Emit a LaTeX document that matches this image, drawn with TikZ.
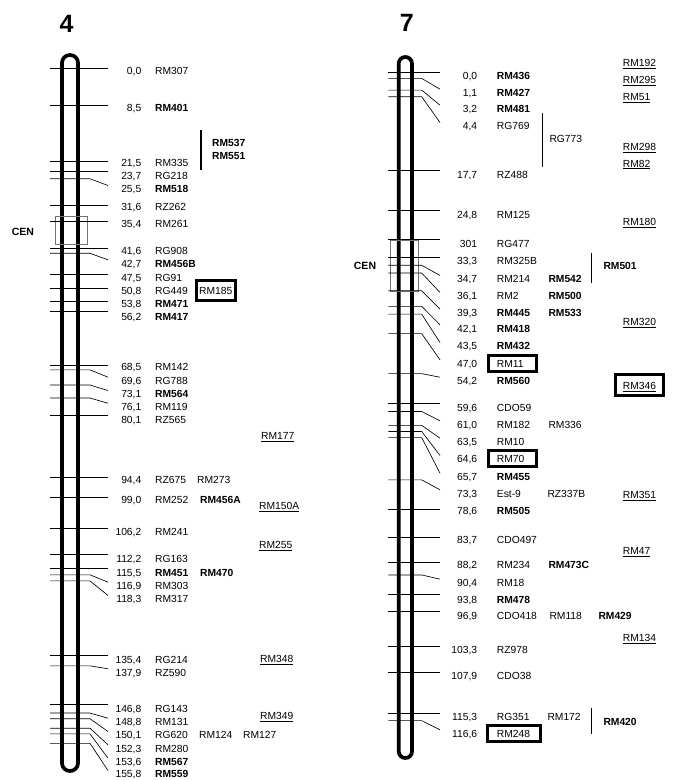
\documentclass[tikz,border=0pt]{standalone}
\usepackage{fontspec}
\setmainfont{Liberation Sans}
\newcommand\mylbl{\fontsize{10.3}{12}\selectfont}
\tikzset{
  tick/.style={line width=0.65pt},
  chrom/.style={line width=3.7pt},
  num/.style={inner sep=0pt, font=\mylbl},
  lab/.style={inner sep=0pt, font=\mylbl, anchor=base west},
  hbox/.style={line width=2.7pt},
  cenbox/.style={draw=black!55, line width=0.7pt},
  bar/.style={line width=1.1pt},
  title/.style={inner sep=0pt, font=\fontsize{25}{30}\selectfont\bfseries},
  cenlab/.style={inner sep=0pt, font=\fontsize{10.5}{12}\selectfont\bfseries}
}
% #1 name, #2 cM, #3 label centre y, #4 number, #5 marker
\newcommand\mfour[5]{%
  \pgfmathsetmacro\lyy{68.3+4.333*#2}
  \pgfmathsetmacro\eyy{#3-3.5}
  \pgfmathtruncatemacro\stt{abs(\lyy-\eyy)<2.5}
  \coordinate (#1-a) at (50,\lyy);
  \node[num,anchor=base east] (#1-n) at (141.5,{#3+3.7}) {#4};
  \node[lab] (#1) at (155,{#3+3.7}) {#5};
  \ifnum\stt=1
    \draw[tick] (#1-a) -- (108,\lyy);
  \else
    \draw[tick] (#1-a) -- ++(40,0) -- (108,\eyy);
  \fi
}
\newcommand\mseven[5]{%
  \pgfmathsetmacro\lyy{72.3+5.56*#2}
  \pgfmathsetmacro\eyy{#3-3.5}
  \pgfmathtruncatemacro\stt{abs(\lyy-\eyy)<2.05}
  \coordinate (#1-a) at (388.3,\lyy);
  \node[num,anchor=base east] (#1-n) at (477.3,{#3+3.7}) {#4};
  \node[lab] (#1) at (496.7,{#3+3.7}) {#5};
  \ifnum\stt=1
    \draw[tick] (#1-a) -- (440,\lyy);
  \else
    \draw[tick] (#1-a) -- ++(33.4,0) -- (440,\eyy);
  \fi
}
\begin{document}
\begin{tikzpicture}[x=1pt,y=-1pt]
\useasboundingbox (0,0) rectangle (673,780);
% titles
\node[title] (t4) at (66.7,24) {4};
\node[title] (t7) at (406.7,23) {7};
% chromosomes
\draw[chrom, rounded corners=7.9pt] (62,55) rectangle (78,771);
\draw[chrom, rounded corners=6.6pt] (398.7,57) rectangle (412,758);
% centromeres
\node[cenlab] (cen4) at (23,232) {CEN};
\draw[cenbox] (55,216.7) rectangle (87,244);
\node[cenlab] (cen7) at (365,266) {CEN};
\draw[cenbox] (390,240.7) rectangle (418.3,291.7);
% ---- chromosome 4 ----
\mfour{a1}{0}{70.7}{0,0}{RM307}
\mfour{a2}{8.5}{108}{8,5}{\textbf{RM401}}
\mfour{a3}{21.5}{163}{21,5}{RM335}
\mfour{a4}{23.7}{175.7}{23,7}{RG218}
\mfour{a5}{25.5}{189}{25,5}{\textbf{RM518}}
\mfour{a6}{31.6}{206.7}{31,6}{RZ262}
\mfour{a7}{35.4}{223.3}{35,4}{RM261}
\mfour{a8}{41.6}{251}{41,6}{RG908}
\mfour{a9}{42.7}{263.3}{42,7}{\textbf{RM456B}}
\mfour{a10}{47.5}{277.3}{47,5}{RG91}
\mfour{a11}{50.8}{290.7}{50,8}{RG449}
\mfour{a12}{53.8}{304}{53,8}{\textbf{RM471}}
\mfour{a13}{56.2}{316.7}{56,2}{\textbf{RM417}}
\mfour{a14}{68.5}{366.7}{68,5}{RM142}
\mfour{a15}{69.6}{380.7}{69,6}{RG788}
\mfour{a16}{73.1}{394}{73,1}{\textbf{RM564}}
\mfour{a17}{76.1}{406.7}{76,1}{RM119}
\mfour{a18}{80.1}{420}{80,1}{RZ565}
\mfour{a19}{94.4}{480}{94,4}{RZ675}
\mfour{a20}{99.0}{499.3}{99,0}{RM252}
\mfour{a21}{106.2}{532}{106,2}{RM241}
\mfour{a22}{112.2}{558.3}{112,2}{RG163}
\mfour{a23}{115.5}{572.3}{115,5}{\textbf{RM451}}
\mfour{a24}{116.9}{585.7}{116,9}{RM303}
\mfour{a25}{118.3}{599}{118,3}{RM317}
\mfour{a26}{135.4}{659.3}{135,4}{RG214}
\mfour{a27}{137.9}{672.3}{137,9}{RZ590}
\mfour{a28}{146.8}{708.3}{146,8}{RG143}
\mfour{a29}{148.8}{721.7}{148,8}{RM131}
\mfour{a30}{150.1}{735}{150,1}{RG620}
\mfour{a31}{152.3}{748.3}{152,3}{RM280}
\mfour{a32}{153.6}{761.7}{153,6}{\textbf{RM567}}
\mfour{a33}{155.8}{774}{155,8}{\textbf{RM559}}
% extra chr 4 labels
\node[lab] (a3b) at (212,146.7) {\textbf{RM537}};
\node[lab] (a3c) at (212,159.7) {\textbf{RM551}};
\draw[bar] (201,130) -- (201,170);
\node[lab] (a11b) at (199,294.4) {RM185};
\draw[hbox] (196.5,280.5) rectangle (235.5,300.2);
\node[lab] (a19b) at (197,483.7) {RM273};
\node[lab] (a20b) at (200,503) {\textbf{RM456A}};
\node[lab] (a23b) at (200,576) {\textbf{RM470}};
\node[lab] (a30b) at (199,738.7) {RM124};
\node[lab] (a30c) at (243,738.7) {RM127};
\node[lab] (u41) at (261,439.7) {\underline{RM177}};
\node[lab] (u42) at (259,509.7) {\underline{RM150A}};
\node[lab] (u43) at (259,548.7) {\underline{RM255}};
\node[lab] (u44) at (260,662.7) {\underline{RM348}};
\node[lab] (u45) at (260,719.4) {\underline{RM349}};
% ---- chromosome 7 ----
\mseven{b1}{0}{76}{0,0}{\textbf{RM436}}
\mseven{b2}{1.1}{92.7}{1,1}{\textbf{RM427}}
\mseven{b3}{3.2}{108.7}{3,2}{\textbf{RM481}}
\mseven{b4}{4.4}{126}{4,4}{RG769}
\mseven{b5}{17.7}{175}{17,7}{RZ488}
\mseven{b6}{24.8}{215}{24,8}{RM125}
\mseven{b7}{30.1}{243.3}{301}{RG477}
\mseven{b8}{33.3}{261}{33,3}{RM325B}
\mseven{b9}{34.7}{279}{34,7}{RM214}
\mseven{b10}{36.1}{296}{36,1}{RM2}
\mseven{b11}{39.3}{312.7}{39,3}{\textbf{RM445}}
\mseven{b12}{42.1}{328.3}{42,1}{\textbf{RM418}}
\mseven{b13}{43.5}{346}{43,5}{\textbf{RM432}}
\mseven{b14}{47.0}{363.3}{47,0}{RM11}
\mseven{b15}{54.2}{380.7}{54,2}{\textbf{RM560}}
\mseven{b16}{59.6}{407.3}{59,6}{CDO59}
\mseven{b17}{61.0}{424.3}{61,0}{RM182}
\mseven{b18}{63.5}{441.7}{63,5}{RM10}
\mseven{b19}{64.6}{459}{64,6}{RM70}
\mseven{b20}{65.7}{476.7}{65,7}{\textbf{RM455}}
\mseven{b21}{73.3}{493.3}{73,3}{Est-9}
\mseven{b22}{78.6}{511}{78,6}{\textbf{RM505}}
\mseven{b23}{83.7}{540}{83,7}{CDO497}
\mseven{b24}{88.2}{564.3}{88,2}{RM234}
\mseven{b25}{90.4}{582.7}{90,4}{RM18}
\mseven{b26}{93.8}{599.3}{93,8}{\textbf{RM478}}
\mseven{b27}{96.9}{616}{96,9}{CDO418}
\mseven{b28}{103.3}{650}{103,3}{RZ978}
\mseven{b29}{107.9}{676}{107,9}{CDO38}
\mseven{b30}{115.3}{716.7}{115,3}{RG351}
\mseven{b31}{116.6}{733.3}{116,6}{RM248}
% extra chr 7 labels
\draw[bar] (542.3,113) -- (542.3,166.7);
\node[lab] (b4b) at (549.3,142) {RG773};
\node[lab] (b9b) at (548.3,282.7) {\textbf{RM542}};
\node[lab] (b10b) at (548.3,299.7) {\textbf{RM500}};
\node[lab] (b11b) at (548.3,316.4) {\textbf{RM533}};
\draw[bar] (591.7,252.7) -- (591.7,282.7);
\node[lab] (b8b) at (603.3,269.7) {\textbf{RM501}};
\draw[hbox] (488.2,355.5) rectangle (536.8,371.8);
\node[lab] (b17b) at (548.3,428) {RM336};
\draw[hbox] (488.2,450.5) rectangle (536.8,466.8);
\node[lab] (b21b) at (547.3,497) {RZ337B};
\node[lab] (b24b) at (548.3,568) {\textbf{RM473C}};
\node[lab] (b27b) at (549.3,619.7) {RM118};
\node[lab] (b27c) at (598.3,619.7) {\textbf{RM429}};
\node[lab] (b30b) at (547.3,720.4) {RM172};
\draw[bar] (591.7,708.3) -- (591.7,734);
\node[lab] (b30c) at (603.3,725.4) {\textbf{RM420}};
\draw[hbox] (487.2,725.5) rectangle (540.8,741.8);
% right column
\node[lab] (u71) at (622.7,66.4) {\underline{RM192}};
\node[lab] (u72) at (622.7,83.7) {\underline{RM295}};
\node[lab] (u73) at (622.7,100.4) {\underline{RM51}};
\node[lab] (u74) at (622.7,150.4) {\underline{RM298}};
\node[lab] (u75) at (622.7,167) {\underline{RM82}};
\node[lab] (u76) at (622.7,225.4) {\underline{RM180}};
\node[lab] (u77) at (622.7,325.4) {\underline{RM320}};
\node[lab] (u78) at (622.7,389.7) {\underline{RM346}};
\draw[hbox] (615.5,374.2) rectangle (663.5,395.8);
\node[lab] (u79) at (622.7,498.7) {\underline{RM351}};
\node[lab] (u710) at (622.7,554.7) {\underline{RM47}};
\node[lab] (u711) at (622.7,641.4) {\underline{RM134}};
\end{tikzpicture}
\end{document}
